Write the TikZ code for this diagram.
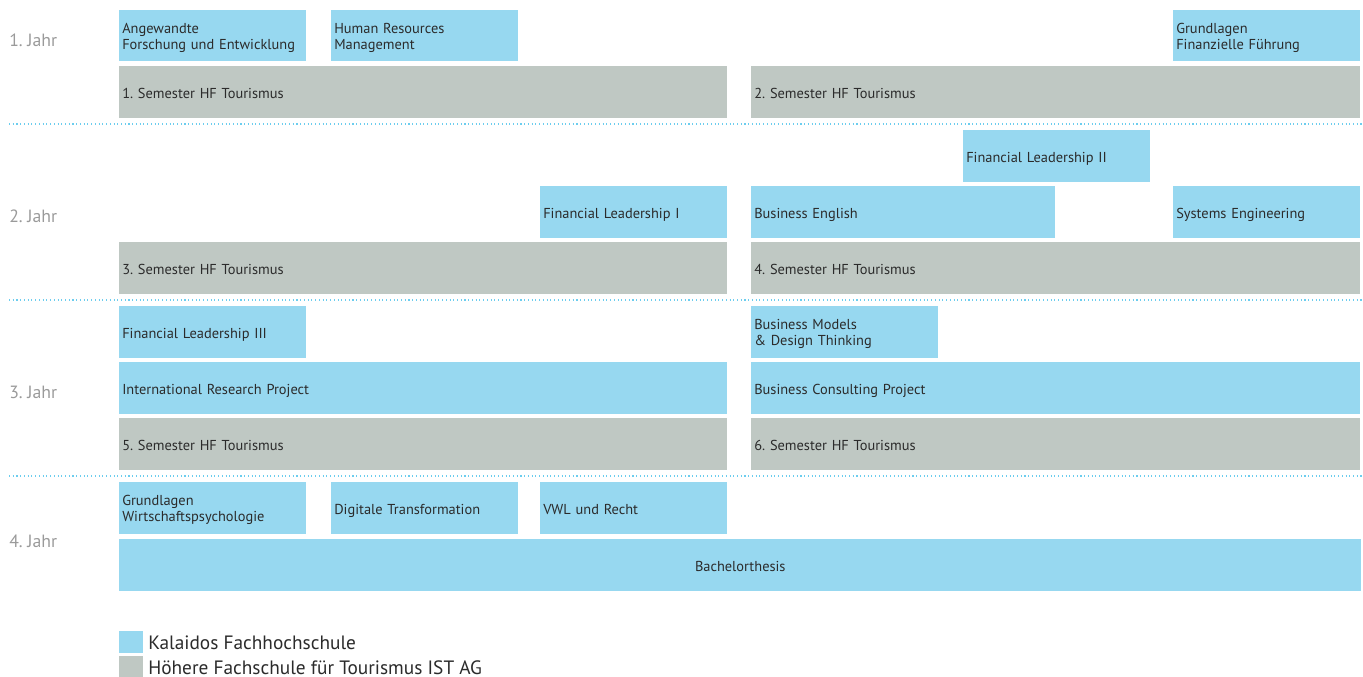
\documentclass[tikz,border=0pt]{standalone}
\usepackage{fontspec}
\setmainfont{PT Sans}
\frenchspacing
\definecolor{kblue}{HTML}{97D8F0}
\definecolor{hgray}{HTML}{BFC8C3}
\definecolor{txt}{HTML}{2B2B2B}
\definecolor{yeargray}{HTML}{9A9A9A}
\definecolor{sepblue}{HTML}{6CCDEE}
\tikzset{
  kbox/.style={fill=kblue, inner sep=0pt},
  hbox/.style={fill=hgray, inner sep=0pt},
  btext/.style={text=txt, font=\fontsize{10.8pt}{12pt}\selectfont, inner sep=0pt, align=left},
  year/.style={text=yeargray, font=\fontsize{13.3pt}{15pt}\selectfont, anchor=west, inner sep=0pt},
  legend/.style={text=txt, font=\fontsize{14.5pt}{16pt}\selectfont, anchor=west, inner sep=0pt},
  sep/.style={draw=sepblue, dotted, line width=0.8pt},
}
% #8 = vertical offset (px) of the first baseline below the box centre
\newcommand\cbox[8]{%
  \pgfmathsetlengthmacro\bw{(#4-#2)*0.75pt}%
  \pgfmathsetlengthmacro\bh{(#5-#3)*0.75pt}%
  \pgfmathsetlengthmacro\tw{(#4-#2-6)*0.75pt}%
  \pgfmathsetlengthmacro\ty{-(#8)*0.75pt}%
  \node[#6, minimum width=\bw, minimum height=\bh, anchor=north west] (#1) at (#2,#3) {};
  \node[btext, text width=\tw, anchor=base west] (#1t) at ([xshift=2.25pt,yshift=\ty]#1.west) {#7};}
\begin{document}
\begin{tikzpicture}[x=0.75pt,y=-0.75pt]
\useasboundingbox (0,0) rectangle (1363,677);
% year 1
\cbox{afe}{119}{10}{306}{61}{kbox}{Angewandte\\Forschung und Entwicklung}{-2.5}
\cbox{hrm}{331}{10}{518}{61}{kbox}{Human Resources\\Management}{-2.5}
\cbox{gff}{1173}{10}{1360}{61}{kbox}{Grundlagen\\Finanzielle Führung}{-2.5}
\cbox{s1}{119}{66}{727}{118}{hbox}{1. Semester HF Tourismus}{6.2}
\cbox{s2}{751}{66}{1360}{118}{hbox}{2. Semester HF Tourismus}{6.2}
% year 2
\cbox{fl2}{963}{130}{1150}{182}{kbox}{Financial Leadership II}{6.2}
\cbox{fl1}{540}{186}{727}{238}{kbox}{Financial Leadership I}{6.2}
\cbox{be}{751}{186}{1055}{238}{kbox}{Business English}{6.2}
\cbox{se}{1173}{186}{1360}{238}{kbox}{Systems Engineering}{6.2}
\cbox{s3}{119}{242}{727}{294}{hbox}{3. Semester HF Tourismus}{6.2}
\cbox{s4}{751}{242}{1360}{294}{hbox}{4. Semester HF Tourismus}{6.2}
% year 3
\cbox{fl3}{119}{306}{306}{358}{kbox}{Financial Leadership III}{6.2}
\cbox{bm}{751}{306}{938}{358}{kbox}{Business Models\\\& Design Thinking}{-2.5}
\cbox{irp}{119}{362}{727}{414}{kbox}{International Research Project}{6.2}
\cbox{bcp}{751}{362}{1360}{414}{kbox}{Business Consulting Project}{6.2}
\cbox{s5}{119}{418}{727}{470}{hbox}{5. Semester HF Tourismus}{6.2}
\cbox{s6}{751}{418}{1360}{470}{hbox}{6. Semester HF Tourismus}{6.2}
% year 4
\cbox{gw}{119}{482}{306}{534}{kbox}{Grundlagen\\Wirtschaftspsychologie}{-2.5}
\cbox{dt}{331}{482}{518}{534}{kbox}{Digitale Transformation}{6.2}
\cbox{vwl}{540}{482}{727}{534}{kbox}{VWL und Recht}{6.2}
\node[kbox, minimum width=931.5pt, minimum height=39pt, anchor=north west] (ba) at (119,539) {};
\node[btext, anchor=base, yshift=-4.65pt] (bat) at (ba.center) {Bachelorthesis};
% separators
\coordinate (l1) at (9,124); \coordinate (r1) at (1363,124);
\coordinate (l2) at (9,300); \coordinate (r2) at (1363,300);
\coordinate (l3) at (9,476); \coordinate (r3) at (1363,476);
\draw[sep] (l1) -- (r1);
\draw[sep] (l2) -- (r2);
\draw[sep] (l3) -- (r3);
% year labels
\node[year] (y1) at (9,40) {1. Jahr};
\node[year] (y2) at (9,216) {2. Jahr};
\node[year] (y3) at (9,392) {3. Jahr};
\node[year] (y4) at (9,541) {4. Jahr};
% legend
\node[kbox, minimum width=18pt, minimum height=16.5pt, anchor=north west] (lkb) at (119,631) {};
\node[hbox, minimum width=18pt, minimum height=15.75pt, anchor=north west] (lhb) at (119,656) {};
\node[legend] (lk) at (148,643) {Kalaidos Fachhochschule};
\node[legend] (lh) at (148,667.5) {Höhere Fachschule für Tourismus IST AG};
\end{tikzpicture}
\end{document}
